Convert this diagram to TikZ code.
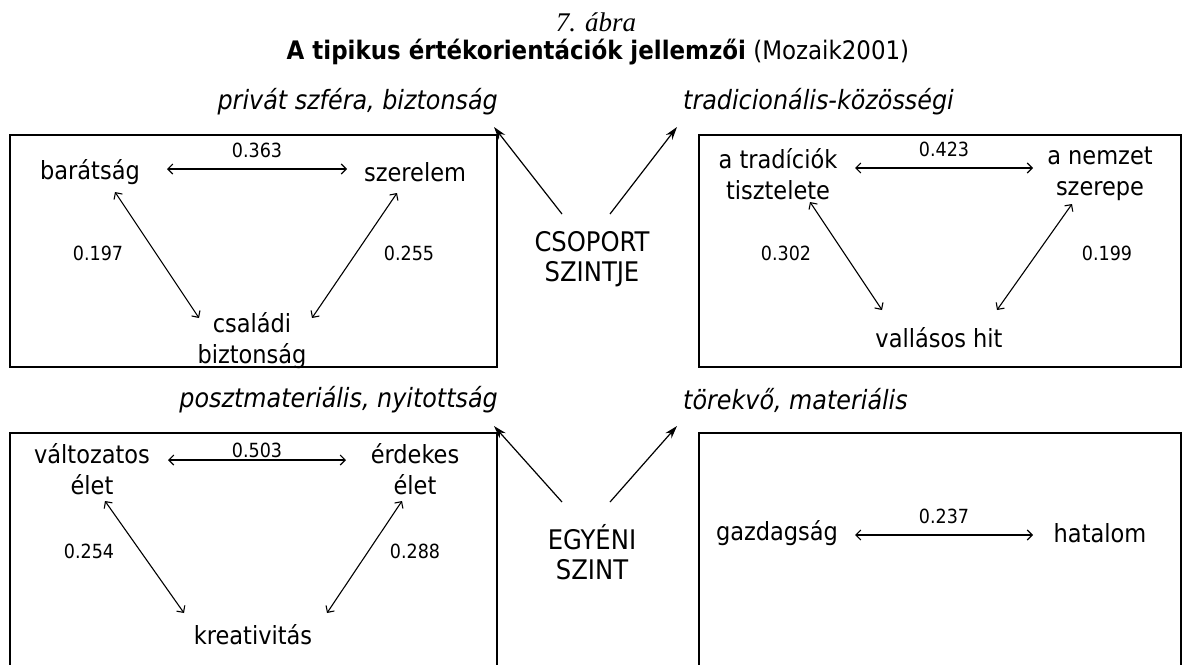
\documentclass[tikz,border=0pt]{standalone}
\usepackage{fontspec}
\setmainfont{DejaVu Sans Condensed}
\newfontfamily\figserif{Liberation Serif}
\usetikzlibrary{arrows.meta, positioning}
\tikzset{itemnode/.style={align=center, font=\fontsize{25}{31}\selectfont, inner sep=1pt},valuenode/.style={font=\fontsize{19.5}{22}\selectfont, inner sep=1pt}}
\tikzset{levelnode/.style={align=center, font=\fontsize{27}{30}\selectfont, inner sep=1pt},orientnode/.style={font=\fontsize{26.5}{28}\itshape\selectfont, inner sep=1pt}}
\tikzset{framebox/.style={draw=black, line width=2pt},linkarrow/.style={{Straight Barb[length=5pt,width=10pt]}-{Straight Barb[length=5pt,width=10pt]}, line width=1.1pt},levelarrow/.style={-{Stealth[length=13pt,width=8pt]}, line width=1.2pt}}

\begin{document}
\begin{tikzpicture}[x=1pt, y=-1pt]
        \useasboundingbox (0,0) rectangle (1183,664);
        % Caption
        \node (fignum) at (596,22) {\figserif\itshape\fontsize{27}{30}\selectfont 7. ábra};
        \node[font=\fontsize{25.5}{28}\selectfont] (title) at (598,52) {\textbf{A tipikus értékorientációk jellemzői} (Mozaik2001)};
        % Orientations
        \node[orientnode, anchor=east] (privat) at (499,102) {privát szféra, biztonság};
        \node[orientnode, anchor=west] (tradic) at (682,102) {tradicionális-közösségi};
        \node[orientnode, anchor=east] (posztm) at (499,400) {posztmateriális, nyitottság};
        \node[orientnode, anchor=west] (torekvo) at (682,400) {törekvő, materiális};
        % Levels
        \node[levelnode] (csoport) at (592,259) {CSOPORT\\SZINTJE};
        \node[levelnode] (egyeni) at (592,552) {EGYÉNI\\SZINT};
        \coordinate (privtip) at (494,127);
        \coordinate (traditip) at (677,127);
        \coordinate (poszttip) at (494,426);
        \coordinate (torektip) at (677,426);
        \draw[levelarrow] ([shift={(-30,-45)}]csoport.center) -- (privtip);
        \draw[levelarrow] ([shift={(18,-45)}]csoport.center) -- (traditip);
        \draw[levelarrow] ([shift={(-30,-50)}]egyeni.center) -- (poszttip);
        \draw[levelarrow] ([shift={(18,-50)}]egyeni.center) -- (torektip);
        % Boxes
        \draw[framebox] (10,135) rectangle (497,367);
        \draw[framebox] (699,135) rectangle (1181,367);
        \draw[framebox] (10,670) |- (497,433) -- (497,670);
        \draw[framebox] (699,670) |- (1181,433) -- (1181,670);
        % Private sphere
        \node[itemnode] (barat) at (90,172) {barátság};
        \node[itemnode] (szerel) at (415,172) {szerelem};
        \node[itemnode] (csalad) at (252,341) {családi\\biztonság};
        \draw[linkarrow] ([shift={(77,-3)}]barat.center) -- node[valuenode, above=10pt] (v363) {0.363} ([shift={(-68,-3)}]szerel.center);
        \draw[linkarrow] ([shift={(25,20)}]barat.center) -- ([shift={(-53,-23)}]csalad.center);
        \draw[linkarrow] ([shift={(-18,21)}]szerel.center) -- ([shift={(60,-23)}]csalad.center);
        \node[valuenode] (v197) at (98,253) {0.197};
        \node[valuenode] (v255) at (409,253) {0.255};
        % Traditions
        \node[itemnode] (tradi) at (778,174) {a tradíciók\\tisztelete};
        \node[itemnode] (nemzet) at (1100,174) {a nemzet\\szerepe};
        \node[itemnode] (vallas) at (939,338) {vallásos hit};
        \draw[linkarrow] ([shift={(77,-6)}]tradi.center) -- node[valuenode, above=10pt] (v423) {0.423} ([shift={(-67,-6)}]nemzet.center);
        \draw[linkarrow] ([shift={(32,28)}]tradi.center) -- ([shift={(-57,-28)}]vallas.center);
        \draw[linkarrow] ([shift={(-28,30)}]nemzet.center) -- ([shift={(58,-28)}]vallas.center);
        \node[valuenode] (v302) at (786,253) {0.302};
        \node[valuenode] (v199) at (1107,253) {0.199};
        % Postmaterial
        \node[itemnode] (valtoz) at (92,469) {változatos\\élet};
        \node[itemnode] (erdek) at (415,469) {érdekes\\élet};
        \node[itemnode] (kreativ) at (253,635) {kreativitás};
        \draw[linkarrow] ([shift={(76,-9)}]valtoz.center) -- node[valuenode, above=1pt] (v503) {0.503} ([shift={(-69,-9)}]erdek.center);
        \draw[linkarrow] ([shift={(13,32)}]valtoz.center) -- ([shift={(-69,-22)}]kreativ.center);
        \draw[linkarrow] ([shift={(-13,32)}]erdek.center) -- ([shift={(74,-22)}]kreativ.center);
        \node[valuenode] (v254) at (89,551) {0.254};
        \node[valuenode] (v288) at (415,551) {0.288};
        % Material
        \node[itemnode] (gazdag) at (777,533) {gazdagság};
        \node[itemnode] (hatalom) at (1100,533) {hatalom};
        \draw[linkarrow] ([shift={(78,2)}]gazdag.center) -- node[valuenode, above=10pt] (v237) {0.237} ([shift={(-67,2)}]hatalom.center);
    \end{tikzpicture}
\end{document}
